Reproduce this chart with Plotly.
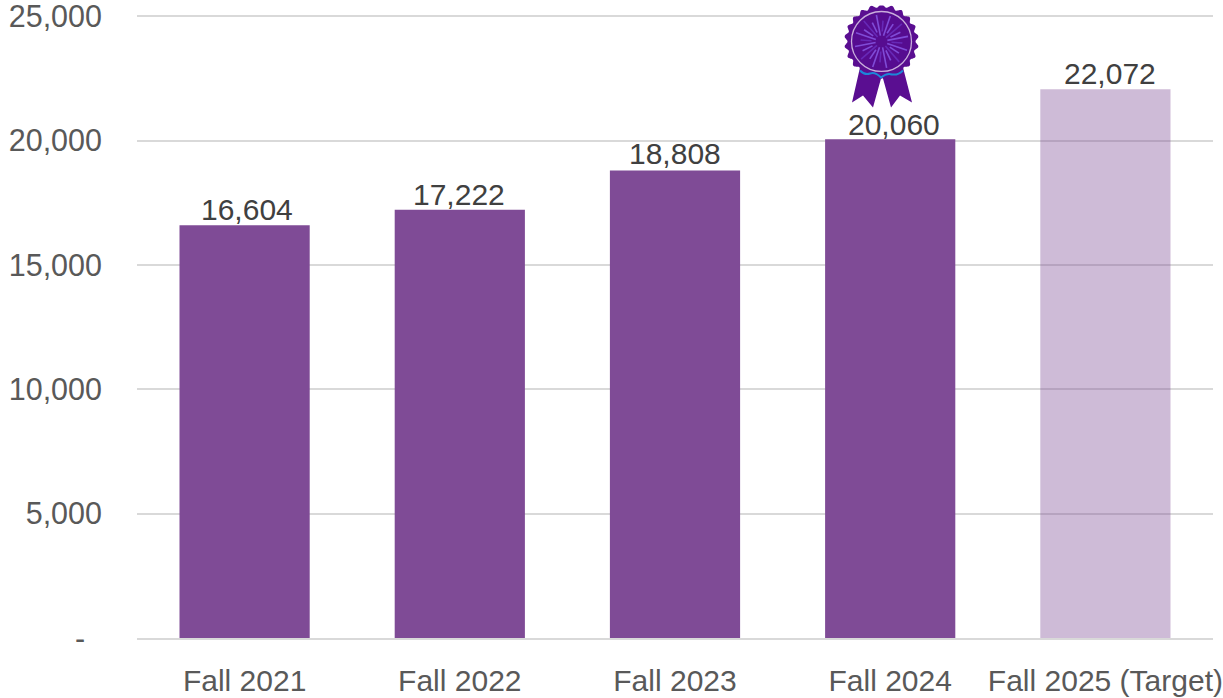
import base64
import math
import plotly.graph_objects as go

categories = ["Fall 2021", "Fall 2022", "Fall 2023", "Fall 2024", "Fall 2025 (Target)"]
values = [16604, 17222, 18808, 20060, 22072]
bar_colors = ["#7F4B96", "#7F4B96", "#7F4B96", "#7F4B96", "rgba(127,75,150,0.38)"]
y_ticks = [0, 5000, 10000, 15000, 20000, 25000]
y_tick_labels = ["-\u00a0\u00a0", "5,000", "10,000", "15,000", "20,000", "25,000"]
data_labels = ["16,604", "17,222", "18,808", "20,060", "22,072"]
y_range = [0, 25100]
label_xshift = [2, -1, 0, 4, 5]
label_yshift = [-3, -3, -2, -4, -3]


def ribbon_svg():
    cx, cy, n = 37.5, 36, 22
    pts = []
    for i in range(360):
        a = 2 * math.pi * i / 360
        r = 35.6 + 1.6 * math.cos(n * a)
        pts.append(f"{cx + r * math.sin(a):.1f},{cy - r * math.cos(a):.1f}")
    rays = ""
    for i in range(24):
        a = 2 * math.pi * i / 24 + 0.07
        r1 = 6 if i % 2 else 10
        r2 = 27 if i % 2 else 21
        c = "#8A5BE8" if i % 3 else "#6A2FC0"
        rays += (f'<line x1="{cx + r1 * math.cos(a):.1f}" y1="{cy + r1 * math.sin(a):.1f}" '
                 f'x2="{cx + r2 * math.cos(a):.1f}" y2="{cy + r2 * math.sin(a):.1f}" '
                 f'stroke="{c}" stroke-width="1.6" stroke-opacity="0.8"/>')
    svg = f'''<svg xmlns="http://www.w3.org/2000/svg" width="75" height="103" viewBox="0 0 75 103">
<defs><filter id="b" x="-10%" y="-10%" width="120%" height="120%"><feGaussianBlur stdDeviation="0.7"/></filter></defs>
<polygon points="16,62 8,97 19,90 29,102 37,73 37,62" fill="#5A0E91"/>
<polygon points="59,62 68,97 56,90 47,102 39,73 39,62" fill="#5A0E91"/>
<polygon points="{' '.join(pts)}" fill="#5A0E91"/>
<path d="M16,65 q5,5 10,3 q5,-2 11,4 q6,-5 11,-3 q6,1 11,-4" fill="none" stroke="#1C86D8" stroke-width="2"/>
<circle cx="{cx}" cy="{cy}" r="30" fill="#560C90" stroke="#C9AEDC" stroke-width="1.3"/>
<g filter="url(#b)">{rays}</g>
</svg>'''
    return "data:image/svg+xml;base64," + base64.b64encode(svg.encode()).decode()


W, H = 1223, 698
L, R, T, B = 137, 1213, 13.5, 638
FONT = "Liberation Sans"

fig = go.Figure(
    go.Bar(
        x=categories,
        y=values,
        width=0.605,
        marker=dict(color=bar_colors, line=dict(width=0)),
        cliponaxis=False,
    )
)
annotations = [
    dict(
        x=c,
        y=v,
        text=t,
        xref="x",
        yref="y",
        showarrow=False,
        yanchor="bottom",
        xshift=dx,
        yshift=dy,
        font=dict(family=FONT, size=30, color="#404040"),
    )
    for c, v, t, dx, dy in zip(categories, values, data_labels, label_xshift, label_yshift)
]
fig.update_layout(
    width=W,
    height=H,
    autosize=False,
    margin=dict(l=L, r=W - R, t=T, b=H - B, pad=0, autoexpand=False),
    paper_bgcolor="white",
    plot_bgcolor="white",
    showlegend=False,
    font=dict(family=FONT),
    annotations=annotations,
    xaxis=dict(
        type="category",
        automargin=False,
        showgrid=False,
        showline=True,
        linecolor="#D9D9D9",
        linewidth=1.5,
        ticks="",
        ticklabelstandoff=15,
        ticklabeloverflow="allow",
        tickfont=dict(family=FONT, size=30, color="#595959"),
    ),
    yaxis=dict(
        range=y_range,
        automargin=False,
        tickvals=y_ticks,
        ticktext=y_tick_labels,
        showgrid=True,
        gridcolor="#D9D9D9",
        gridwidth=1.5,
        zeroline=False,
        ticks="",
        ticklabelstandoff=34,
        ticklabeloverflow="allow",
        tickfont=dict(family=FONT, size=30.5, color="#595959"),
    ),
    images=[
        dict(
            source=ribbon_svg(),
            xref="paper",
            yref="paper",
            x=(844 - L) / (R - L),
            y=(B - 5) / (B - T),
            sizex=75 / (R - L),
            sizey=103 / (B - T),
            xanchor="left",
            yanchor="top",
            sizing="stretch",
            layer="above",
        )
    ],
)
fig.write_html(
    "out.html",
    config={"displayModeBar": False},
    post_script="document.body.style.margin='0';document.documentElement.style.overflow='hidden';",
)
